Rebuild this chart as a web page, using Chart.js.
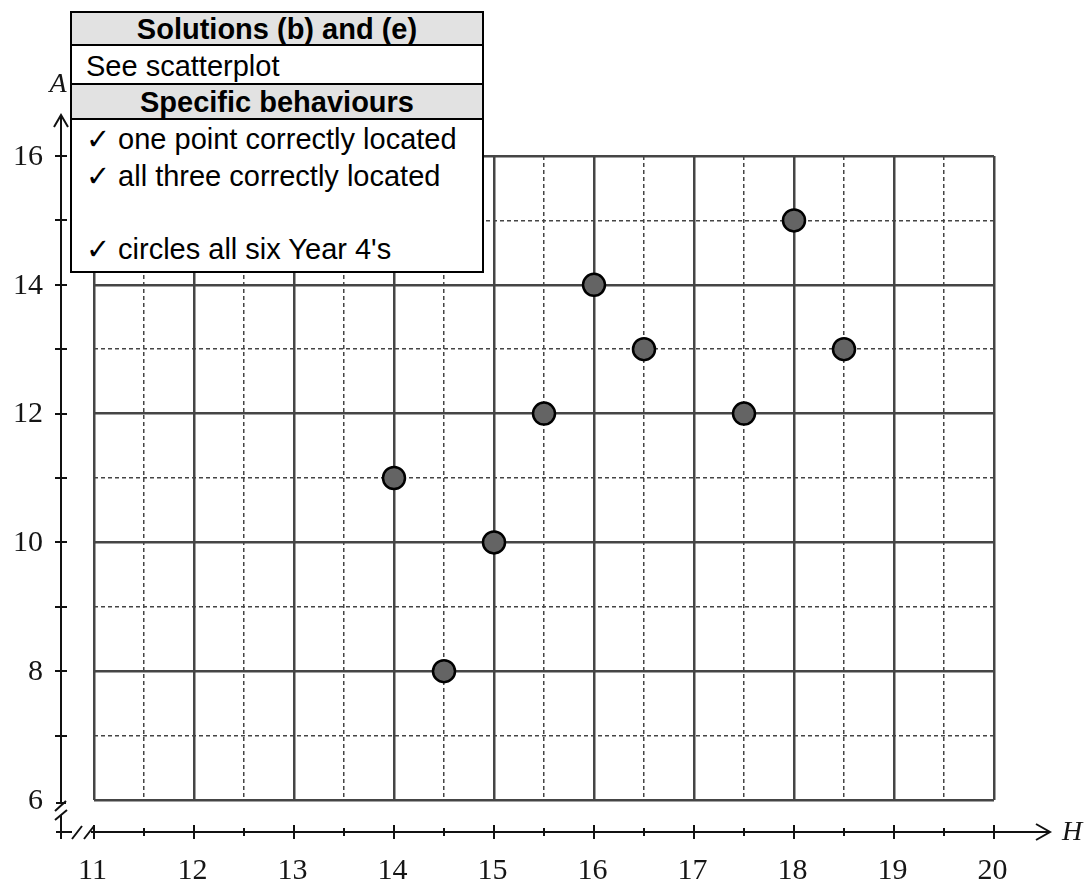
<!DOCTYPE html>
<html>
<head>
<meta charset="utf-8">
<script src="https://cdn.jsdelivr.net/npm/chart.js@4/dist/chart.umd.min.js"></script>
<style>
  html, body { margin: 0; padding: 0; background: #fff; }
  #wrap { position: relative; width: 1086px; height: 884px; }
  #tbl {
    position: absolute; left: 70px; top: 11px; width: 414px;
    border: 2px solid #000; box-sizing: border-box; background: #fff;
    font-family: "Liberation Sans", Arial, sans-serif; color: #000; z-index: 2;
  }
  #tbl .hd { background: #e2e2e2; font-weight: bold; text-align: center; font-size: 29px; }
  #tbl .r1 { height: 31px; line-height: 33px; border-bottom: 2px solid #000; }
  #tbl .r2 { height: 37px; line-height: 40px; border-bottom: 2px solid #000; padding-left: 14px; font-size: 29px; }
  #tbl .r3 { height: 33px; line-height: 35px; border-bottom: 2px solid #000; }
  #tbl .r4 { padding: 1px 0 4px 14px; font-size: 29px; line-height: 36.5px; white-space: nowrap; }
</style>
</head>
<body>
<div id="wrap">
  <canvas id="c" width="1086" height="884"></canvas>
  <div id="tbl">
    <div class="hd r1">Solutions (b) and (e)</div>
    <div class="r2">See scatterplot</div>
    <div class="hd r3">Specific behaviours</div>
    <div class="r4">✓ one point correctly located<br>✓ all three correctly located<br>&nbsp;<br>✓ circles all six Year 4's</div>
  </div>
</div>
<script>
// ---- data ----
const hValues = [14, 14.5, 15, 15.5, 16, 16.5, 17.5, 18, 18.5];
const aValues = [11, 8, 10, 12, 14, 13, 12, 15, 13];
const xTickLabels = [11, 12, 13, 14, 15, 16, 17, 18, 19, 20];
const yTickLabels = [6, 8, 10, 12, 14, 16];
const xAxisName = 'H';
const yAxisName = 'A';

const points = hValues.map((h, i) => ({ x: h, y: aValues[i] }));

const SOLID = '#454545';
const DASH = '#454545';

const axesPlugin = {
  id: 'axesPlugin',
  afterDraw(chart) {
    const ctx = chart.ctx;
    const xs = chart.scales.x, ys = chart.scales.y;
    const axX = 61;   // y-axis line position (px)
    const axY = 832;  // x-axis line position (px)
    ctx.save();
    ctx.strokeStyle = '#111';
    ctx.lineWidth = 2;
    ctx.lineCap = 'butt';
    // y axis line
    ctx.beginPath();
    ctx.moveTo(axX, 116); ctx.lineTo(axX, 802);
    ctx.stroke();
    // y break
    ctx.beginPath();
    ctx.moveTo(56, 803); ctx.lineTo(66, 803);
    ctx.moveTo(66, 801); ctx.lineTo(55, 811);
    ctx.moveTo(67, 810); ctx.lineTo(55, 820);
    ctx.moveTo(axX, 815); ctx.lineTo(axX, 839);
    ctx.stroke();
    // y arrow
    ctx.beginPath();
    ctx.moveTo(54, 127); ctx.lineTo(axX, 115); ctx.lineTo(68, 127);
    ctx.stroke();
    // x axis line
    ctx.beginPath();
    ctx.moveTo(56, axY); ctx.lineTo(72, axY);
    ctx.moveTo(72, 839); ctx.lineTo(82, 826);
    ctx.moveTo(84, 839); ctx.lineTo(94, 826);
    ctx.moveTo(91, axY); ctx.lineTo(1049, axY);
    ctx.stroke();
    // x arrow
    ctx.beginPath();
    ctx.moveTo(1036, 824); ctx.lineTo(1050, axY); ctx.lineTo(1036, 840);
    ctx.stroke();
    // y ticks at each integer
    for (let v = 7; v <= 16; v++) {
      const py = Math.round(ys.getPixelForValue(v));
      ctx.beginPath(); ctx.moveTo(55, py); ctx.lineTo(67, py); ctx.stroke();
    }
    // x ticks at every half unit
    for (let v = 11; v <= 20; v += 0.5) {
      const px = Math.round(xs.getPixelForValue(v));
      const full = Number.isInteger(v);
      ctx.beginPath();
      ctx.moveTo(px, full ? 825 : 828); ctx.lineTo(px, full ? 839 : 836);
      ctx.stroke();
    }
    // tick labels
    ctx.fillStyle = '#151515';
    ctx.font = '30px "Liberation Serif", "DejaVu Serif", serif';
    ctx.textAlign = 'right'; ctx.textBaseline = 'middle';
    yTickLabels.forEach(v => {
      ctx.fillText(String(v), 43, ys.getPixelForValue(v) + 1);
    });
    ctx.textAlign = 'center';
    xTickLabels.forEach(v => {
      ctx.fillText(String(v), xs.getPixelForValue(v) - 1.5, 871);
    });
    // axis names
    ctx.font = 'italic 28px "Liberation Serif", "DejaVu Serif", serif';
    ctx.textAlign = 'center';
    ctx.fillText(yAxisName, 58, 85);
    ctx.textAlign = 'left';
    ctx.fillText(xAxisName, 1062, 833);
    ctx.restore();
  }
};

new Chart(document.getElementById('c'), {
  type: 'scatter',
  data: {
    datasets: [{
      data: points,
      backgroundColor: '#646464',
      borderColor: '#000',
      borderWidth: 2.5,
      pointRadius: 11,
      pointHoverRadius: 11
    }]
  },
  options: {
    responsive: false,
    animation: false,
    events: [],
    layout: { padding: { left: 94, right: 92, top: 156, bottom: 84 } },
    plugins: { legend: { display: false }, tooltip: { enabled: false } },
    scales: {
      x: {
        type: 'linear', min: 11, max: 20,
        ticks: { stepSize: 0.5, display: false },
        grid: {
          drawTicks: false,
          color: c => Number.isInteger(c.tick && c.tick.value) ? SOLID : DASH,
          lineWidth: c => Number.isInteger(c.tick && c.tick.value) ? 2.5 : 1.5
        },
        border: {
          display: false,
          dash: c => (c.tick && !Number.isInteger(c.tick.value)) ? [4, 3] : []
        }
      },
      y: {
        type: 'linear', min: 6, max: 16,
        ticks: { stepSize: 1, display: false },
        grid: {
          drawTicks: false,
          color: c => (c.tick && c.tick.value % 2 === 0) ? SOLID : DASH,
          lineWidth: c => (c.tick && c.tick.value % 2 === 0) ? 2.5 : 1.5
        },
        border: {
          display: false,
          dash: c => (c.tick && c.tick.value % 2 !== 0) ? [4, 3] : []
        }
      }
    }
  },
  plugins: [axesPlugin]
});
</script>
</body>
</html>
